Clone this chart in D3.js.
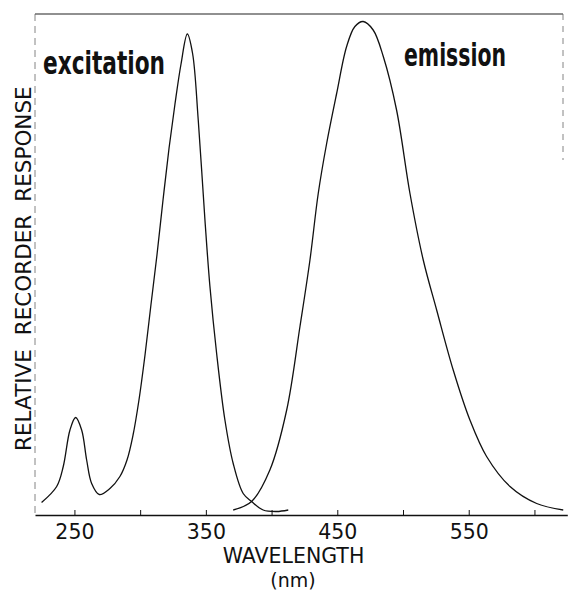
<!DOCTYPE html>
<html>
<head>
<meta charset="utf-8">
<script src="https://cdn.jsdelivr.net/npm/d3@7"></script>
<style>
  html, body { margin: 0; padding: 0; background: #fff; }
  svg { display: block; }
</style>
</head>
<body>
<svg id="chart" width="572" height="594"></svg>
<script>
// ---- data (wavelength nm, relative response 0-100) ----
const excitationWavelength = [225, 236.5, 241.5, 246.6, 250.9, 255.5, 259.3, 263.1, 268.9, 277, 284.6, 290.0, 294.6, 299.1, 303.7, 308.2, 312.8, 317.4, 322.0, 326.5, 331.1, 335.9, 339.9, 344.2, 349.3, 353.1, 358.2, 364.5, 370.8, 378.4, 384.8, 393.6, 403.8, 412.7];
const excitationValue      = [2.5, 5.7, 9.7, 17, 19.5, 17, 11, 6.3, 4.1, 5.3, 7.7, 11, 16, 23, 32, 42, 52, 63, 73.4, 82.2, 90.2, 96.2, 92.3, 79, 59, 45.7, 32.3, 19, 10.3, 4.3, 2.7, 1, 0.7, 1];
const emissionWavelength   = [370.8, 384.8, 398.7, 411.5, 421.6, 429.2, 435.5, 441.9, 449.5, 457.1, 463.4, 469.7, 477.3, 485, 495.1, 505.3, 515.4, 525.6, 538.2, 550.9, 563.6, 581.4, 601.7, 621.9];
const emissionValue        = [1, 2.7, 9, 21, 37.7, 51, 64.3, 74.3, 84.3, 93.7, 97.7, 98.7, 97, 91.7, 81, 64.3, 51, 41, 29, 19, 11.7, 5.7, 2.3, 1];
const tickValues = [250, 300, 350, 400, 450, 500, 550, 600];
const tickLabels = ["250", "", "350", "", "450", "", "550", ""];
const curveLabels = ["excitation", "emission"];
const xTitle = "WAVELENGTH";
const xUnit = "(nm)";
const yTitleWords = ["RELATIVE", "RECORDER", "RESPONSE"];

// ---- drawing ----
const svg = d3.select("#chart");
const x = d3.scaleLinear().domain([220, 625]).range([35, 567.3]);
const y = d3.scaleLinear().domain([0, 100]).range([515, 15]);
const ink = "#111";

// frame (top solid, sides dashed)
svg.append("line").attr("x1", 35).attr("x2", 563).attr("y1", 14).attr("y2", 14)
  .attr("stroke", "#222").attr("stroke-width", 1.1);
svg.append("line").attr("x1", 35).attr("x2", 35).attr("y1", 14).attr("y2", 515)
  .attr("stroke", "#666").attr("stroke-width", 0.8).attr("stroke-dasharray", "7,5");
svg.append("line").attr("x1", 563).attr("x2", 563).attr("y1", 14).attr("y2", 160)
  .attr("stroke", "#666").attr("stroke-width", 0.8).attr("stroke-dasharray", "6,6");

// x axis
const axis = d3.axisBottom(x)
  .tickValues(tickValues)
  .tickFormat((d, i) => tickLabels[i])
  .tickSizeInner(-5).tickSizeOuter(0).tickPadding(9);
const gx = svg.append("g").attr("transform", "translate(0,515)").call(axis);
gx.select(".domain").attr("stroke", ink).attr("stroke-width", 1.3);
gx.selectAll(".tick line").attr("stroke", ink).attr("stroke-width", 1);
gx.selectAll(".tick text").attr("font-family", "'DejaVu Sans', sans-serif")
  .attr("font-size", 20.5).attr("fill", ink);

// axis titles
svg.append("text").attr("x", 293.5).attr("y", 563).attr("text-anchor", "middle")
  .attr("font-family", "'DejaVu Sans', sans-serif").attr("font-size", 20.5).attr("fill", ink)
  .text(xTitle);
svg.append("text").attr("x", 293).attr("y", 587).attr("text-anchor", "middle")
  .attr("font-family", "'DejaVu Sans', sans-serif").attr("font-size", 19).attr("fill", ink)
  .text(xUnit);

const yCenters = [400, 275, 144];
yTitleWords.forEach((w, i) => {
  svg.append("text")
    .attr("transform", `translate(31,${yCenters[i]}) rotate(-90)`)
    .attr("text-anchor", "middle")
    .attr("font-family", "'DejaVu Sans', sans-serif").attr("font-size", 21.5).attr("fill", ink)
    .text(w);
});

// curves
const line = d3.line().x(d => x(d[0])).y(d => y(d[1])).curve(d3.curveCatmullRom.alpha(0.5));
const exc = excitationWavelength.map((w, i) => [w, excitationValue[i]]);
const emi = emissionWavelength.map((w, i) => [w, emissionValue[i]]);
[exc, emi].forEach(data => {
  svg.append("path").datum(data).attr("d", line)
    .attr("fill", "none").attr("stroke", ink).attr("stroke-width", 1.3);
});

// curve labels
const labelFont = "'Liberation Sans Narrow', 'DejaVu Sans Condensed', sans-serif";
svg.append("text").attr("x", 43).attr("y", 74)
  .attr("font-family", labelFont).attr("font-weight", "bold").attr("font-size", 32)
  .attr("textLength", 122).attr("lengthAdjust", "spacingAndGlyphs").attr("fill", ink)
  .text(curveLabels[0]);
svg.append("text").attr("x", 404).attr("y", 66)
  .attr("font-family", labelFont).attr("font-weight", "bold").attr("font-size", 32)
  .attr("textLength", 102).attr("lengthAdjust", "spacingAndGlyphs").attr("fill", ink)
  .text(curveLabels[1]);
</script>
</body>
</html>
